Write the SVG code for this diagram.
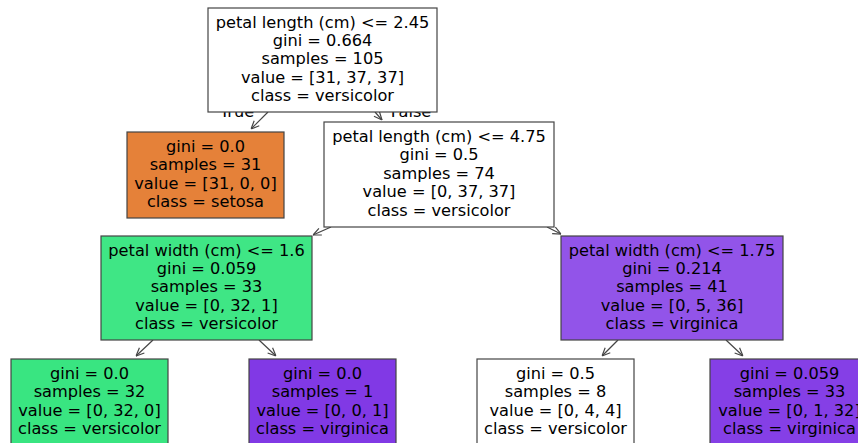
<svg xmlns="http://www.w3.org/2000/svg" width="858" height="443" viewBox="0 0 858 443">
<style>
  .box { stroke: #444; stroke-width: 1.2; }
  .t { font-family: "DejaVu Sans", "Liberation Sans", sans-serif; font-size: 16.2px; fill: #000; text-anchor: middle; }
  .edge { stroke: #444; stroke-width: 1.2; fill: none; marker-end: url(#arr); }
</style>
<defs>
  <marker id="arr" viewBox="0 0 10 10" refX="10" refY="5" markerWidth="9" markerHeight="9" orient="auto" markerUnits="userSpaceOnUse">
    <path d="M1,1 L10,5 L1,9" fill="none" stroke="#444" stroke-width="1.3"/>
  </marker>
</defs>
<rect width="858" height="443" fill="#fff"/>
<g id="edge-labels">
  <text class="t" x="237" y="117">True</text>
  <text class="t" x="411" y="117">False</text>
</g>
<g id="connectors">
  <line class="edge" x1="268" y1="112" x2="251" y2="129"/>
  <line class="edge" x1="375" y1="112" x2="382" y2="120"/>
  <line class="edge" x1="331" y1="227" x2="313" y2="235"/>
  <line class="edge" x1="547" y1="227" x2="561" y2="234"/>
  <line class="edge" x1="153" y1="340" x2="136" y2="356"/>
  <line class="edge" x1="259" y1="340" x2="276" y2="356"/>
  <line class="edge" x1="618" y1="340" x2="602" y2="356"/>
  <line class="edge" x1="726" y1="340" x2="743" y2="356"/>
</g>
<g id="node0">
  <rect class="box" x="208" y="8" width="229" height="104" fill="#ffffff"/>
  <text class="t" y="27.5"><tspan x="322.5">petal length (cm) &lt;= 2.45</tspan><tspan x="322.5" dy="18.4">gini = 0.664</tspan><tspan x="322.5" dy="18.4">samples = 105</tspan><tspan x="322.5" dy="18.4">value = [31, 37, 37]</tspan><tspan x="322.5" dy="18.4">class = versicolor</tspan></text>
</g>
<g id="node1">
  <rect class="box" x="127" y="132" width="157" height="86" fill="#e58139"/>
  <text class="t" y="151.7"><tspan x="205.5">gini = 0.0</tspan><tspan x="205.5" dy="18.4">samples = 31</tspan><tspan x="205.5" dy="18.4">value = [31, 0, 0]</tspan><tspan x="205.5" dy="18.4">class = setosa</tspan></text>
</g>
<g id="node2">
  <rect class="box" x="324" y="122" width="230" height="105" fill="#ffffff"/>
  <text class="t" y="142"><tspan x="439">petal length (cm) &lt;= 4.75</tspan><tspan x="439" dy="18.4">gini = 0.5</tspan><tspan x="439" dy="18.4">samples = 74</tspan><tspan x="439" dy="18.4">value = [0, 37, 37]</tspan><tspan x="439" dy="18.4">class = versicolor</tspan></text>
</g>
<g id="node3">
  <rect class="box" x="101" y="236" width="211" height="104" fill="#3fe685"/>
  <text class="t" y="255.5"><tspan x="206.5">petal width (cm) &lt;= 1.6</tspan><tspan x="206.5" dy="18.4">gini = 0.059</tspan><tspan x="206.5" dy="18.4">samples = 33</tspan><tspan x="206.5" dy="18.4">value = [0, 32, 1]</tspan><tspan x="206.5" dy="18.4">class = versicolor</tspan></text>
</g>
<g id="node4">
  <rect class="box" x="11" y="359" width="157" height="90" fill="#39e581"/>
  <text class="t" y="378.7"><tspan x="89.5">gini = 0.0</tspan><tspan x="89.5" dy="18.4">samples = 32</tspan><tspan x="89.5" dy="18.4">value = [0, 32, 0]</tspan><tspan x="89.5" dy="18.4">class = versicolor</tspan></text>
</g>
<g id="node5">
  <rect class="box" x="249" y="359" width="147" height="90" fill="#8139e5"/>
  <text class="t" y="378.7"><tspan x="322.5">gini = 0.0</tspan><tspan x="322.5" dy="18.4">samples = 1</tspan><tspan x="322.5" dy="18.4">value = [0, 0, 1]</tspan><tspan x="322.5" dy="18.4">class = virginica</tspan></text>
</g>
<g id="node6">
  <rect class="box" x="561" y="236" width="222" height="104" fill="#9254e9"/>
  <text class="t" y="255.5"><tspan x="672">petal width (cm) &lt;= 1.75</tspan><tspan x="672" dy="18.4">gini = 0.214</tspan><tspan x="672" dy="18.4">samples = 41</tspan><tspan x="672" dy="18.4">value = [0, 5, 36]</tspan><tspan x="672" dy="18.4">class = virginica</tspan></text>
</g>
<g id="node7">
  <rect class="box" x="477" y="359" width="157" height="90" fill="#ffffff"/>
  <text class="t" y="378.7"><tspan x="555.5">gini = 0.5</tspan><tspan x="555.5" dy="18.4">samples = 8</tspan><tspan x="555.5" dy="18.4">value = [0, 4, 4]</tspan><tspan x="555.5" dy="18.4">class = versicolor</tspan></text>
</g>
<g id="node8">
  <rect class="box" x="710" y="359" width="160" height="90" fill="#853fe6"/>
  <text class="t" y="378.7"><tspan x="789.5">gini = 0.059</tspan><tspan x="789.5" dy="18.4">samples = 33</tspan><tspan x="789.5" dy="18.4">value = [0, 1, 32]</tspan><tspan x="789.5" dy="18.4">class = virginica</tspan></text>
</g>
</svg>
